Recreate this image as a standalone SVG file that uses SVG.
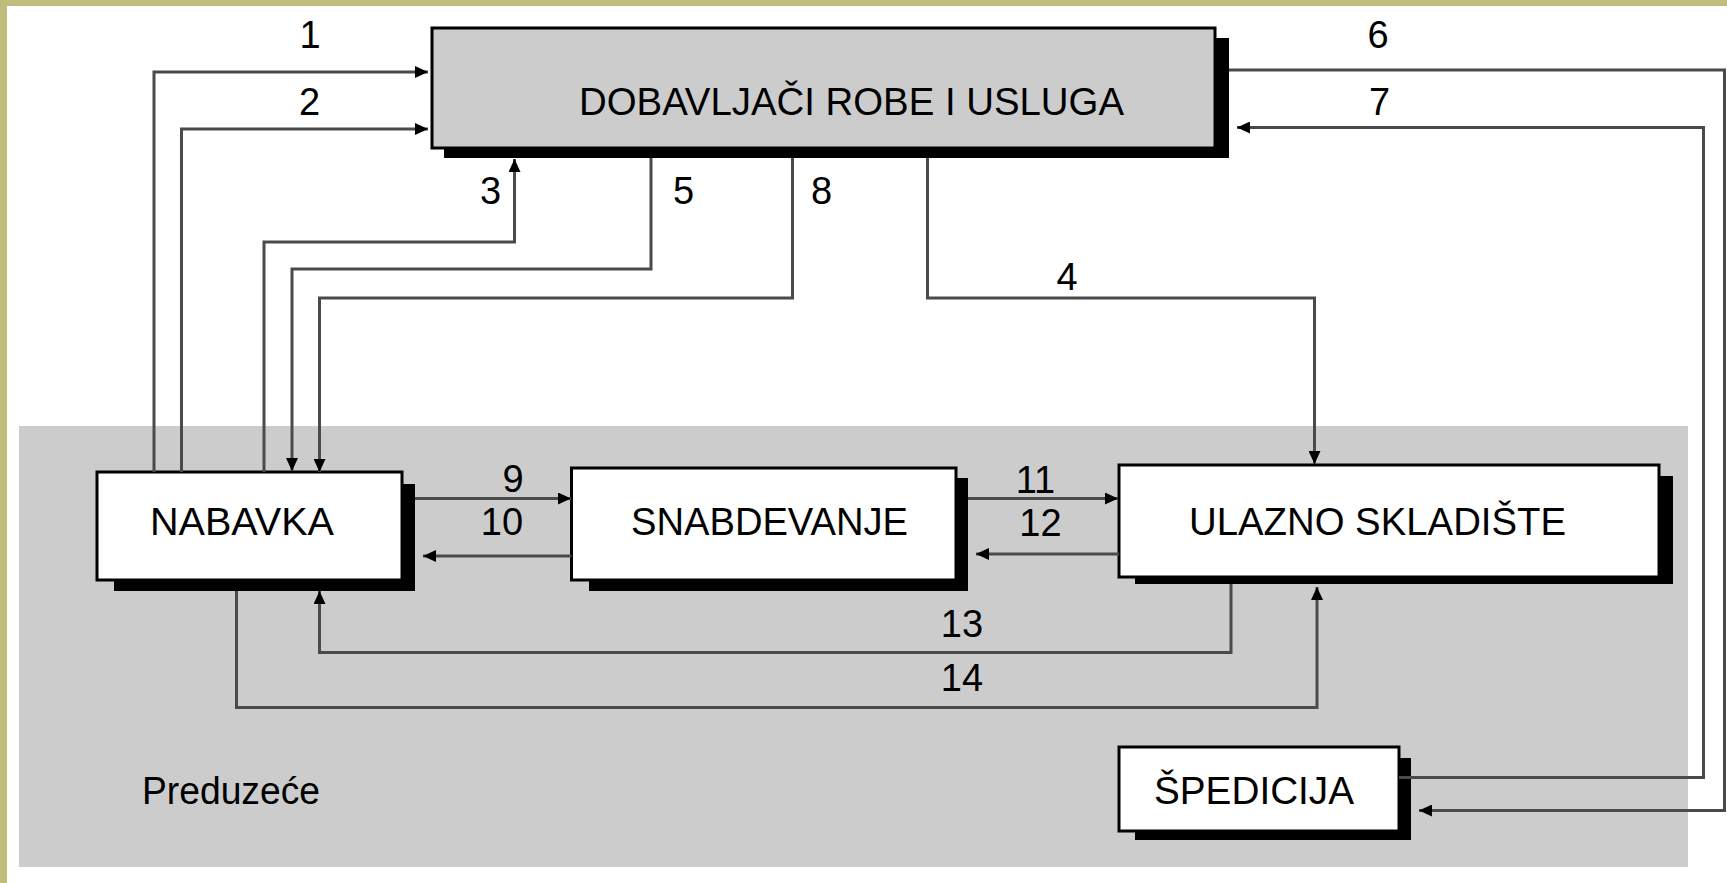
<svg xmlns="http://www.w3.org/2000/svg" width="1727" height="883" viewBox="0 0 1727 883">
<style>
.frame{fill:#bebd7c}
.box{stroke:#000;stroke-width:3}
.shadow{fill:#000}
.lbl{font-family:"Liberation Sans",Arial,sans-serif;font-size:38px;fill:#000}
.num{font-family:"Liberation Sans",Arial,sans-serif;font-size:38px;fill:#000;text-anchor:middle}
.conn path{fill:none;stroke:#4a4a4a;stroke-width:3}
</style>
<defs>
<marker id="arr" markerUnits="userSpaceOnUse" markerWidth="14" markerHeight="12" refX="13" refY="6" orient="auto">
<path d="M0,0 L13,6 L0,12 z" fill="#000"/>
</marker>
</defs>
<rect x="0" y="0" width="1727" height="883" fill="#fff"/>
<rect class="frame" x="0" y="0" width="7" height="883"/>
<rect class="frame" x="0" y="0" width="1727" height="6"/>
<g id="preduzece">
<rect x="19" y="426" width="1669" height="441" fill="#cccccc"/>
<text class="lbl" x="142" y="804" textLength="178" lengthAdjust="spacingAndGlyphs">Preduzeće</text>
</g>
<g id="dobavljaci">
<rect class="shadow" x="444" y="38" width="785" height="120"/>
<rect class="box" x="432" y="28" width="783" height="120" fill="#cccccc"/>
<text class="lbl" x="579" y="115" textLength="545" lengthAdjust="spacingAndGlyphs">DOBAVLJAČI ROBE I USLUGA</text>
</g>
<g id="nabavka">
<rect class="shadow" x="114" y="484" width="301" height="107"/>
<rect class="box" x="97" y="472" width="305" height="108" fill="#fff"/>
<text class="lbl" x="150" y="535" textLength="184" lengthAdjust="spacingAndGlyphs">NABAVKA</text>
</g>
<g id="snabdevanje">
<rect class="shadow" x="589" y="478" width="379" height="113"/>
<rect class="box" x="571.5" y="468" width="384.5" height="112" fill="#fff"/>
<text class="lbl" x="631" y="535" textLength="277" lengthAdjust="spacingAndGlyphs">SNABDEVANJE</text>
</g>
<g id="ulazno">
<rect class="shadow" x="1135" y="476" width="538" height="108"/>
<rect class="box" x="1119" y="465" width="540" height="112" fill="#fff"/>
<text class="lbl" x="1189" y="535" textLength="377" lengthAdjust="spacingAndGlyphs">ULAZNO SKLADIŠTE</text>
</g>
<g id="spedicija">
<rect class="shadow" x="1135" y="758" width="276" height="82"/>
<rect class="box" x="1119" y="747" width="280" height="84" fill="#fff"/>
<text class="lbl" x="1154" y="804" textLength="200" lengthAdjust="spacingAndGlyphs">ŠPEDICIJA</text>
</g>
<g id="connectors" class="conn">
<path d="M154,472 V72 H428" marker-end="url(#arr)"/>
<path d="M181.5,472 V129 H428" marker-end="url(#arr)"/>
<path d="M264,472 V242 H514.5 V159" marker-end="url(#arr)"/>
<path d="M651,158 V269 H292 V471" marker-end="url(#arr)"/>
<path d="M792.5,158 V298 H319.5 V472" marker-end="url(#arr)"/>
<path d="M927.5,158 V298 H1314.5 V464" marker-end="url(#arr)"/>
<path d="M1229,70 H1724.5 V810.5 H1419" marker-end="url(#arr)"/>
<path d="M1399,777.5 H1703.5 V127.5 H1237" marker-end="url(#arr)"/>
<path d="M415,498.5 H571" marker-end="url(#arr)"/>
<path d="M571.5,556 H423" marker-end="url(#arr)"/>
<path d="M968,498.5 H1118" marker-end="url(#arr)"/>
<path d="M1119,554 H976" marker-end="url(#arr)"/>
<path d="M1231,584 V652.5 H319.5 V591" marker-end="url(#arr)"/>
<path d="M236.5,591 V707.5 H1317 V587" marker-end="url(#arr)"/>
</g>
<g id="labels">
<text class="num" x="310" y="48">1</text>
<text class="num" x="309.5" y="115">2</text>
<text class="num" x="490.5" y="204">3</text>
<text class="num" x="683.5" y="204">5</text>
<text class="num" x="821.5" y="204">8</text>
<text class="num" x="1067" y="290">4</text>
<text class="num" x="1378" y="48">6</text>
<text class="num" x="1379.5" y="115">7</text>
<text class="num" x="513" y="492">9</text>
<text class="num" x="502" y="535">10</text>
<text class="num" x="1035.5" y="493">11</text>
<text class="num" x="1040.5" y="536">12</text>
<text class="num" x="962" y="637">13</text>
<text class="num" x="962" y="691">14</text>
</g>
</svg>
